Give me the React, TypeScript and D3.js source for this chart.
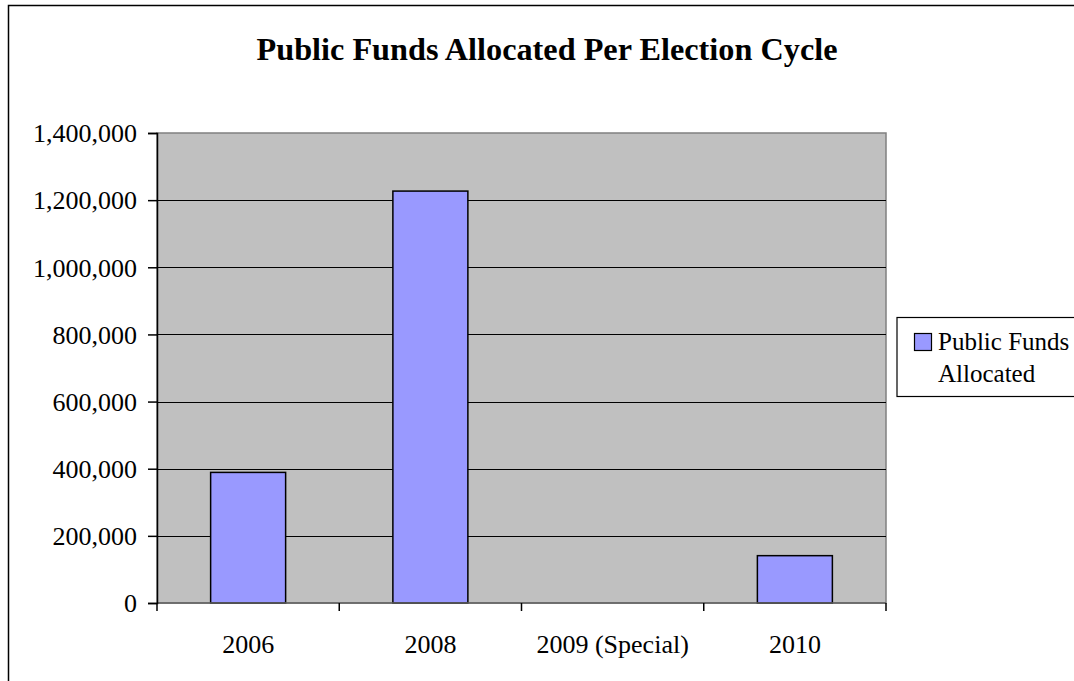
import React, { useEffect, useRef } from "react";
import * as d3 from "d3";

const categories = ["2006", "2008", "2009 (Special)", "2010"];
const values = [389000, 1227000, 0, 141000];
const yTicks = [0, 200000, 400000, 600000, 800000, 1000000, 1200000, 1400000];
const title = "Public Funds Allocated Per Election Cycle";
const seriesName = ["Public Funds", "Allocated"];

const W = 1074;
const H = 681;
const M = { left: 157, right: 886, top: 133, bottom: 603 };
const FONT = "'Liberation Serif', serif";

export default function App() {
  const ref = useRef<SVGSVGElement | null>(null);

  useEffect(() => {
    const svg = d3.select(ref.current);
    svg.selectAll("*").remove();

    svg.append("rect").attr("x", 0).attr("y", 0).attr("width", W).attr("height", H).attr("fill", "#fff");

    // outer border
    svg.append("path")
      .attr("d", `M8.5,${H + 5} V5.5 H${W + 5}`)
      .attr("fill", "none").attr("stroke", "#000").attr("stroke-width", 1.5);

    svg.append("text")
      .attr("x", 547).attr("y", 60)
      .attr("text-anchor", "middle")
      .attr("font-family", FONT).attr("font-weight", 700).attr("font-size", 32)
      .attr("textLength", 581).attr("lengthAdjust", "spacingAndGlyphs")
      .text(title);

    const x = d3.scaleBand<string>().domain(categories).range([M.left, M.right]).paddingInner(0).paddingOuter(0);
    const y = d3.scaleLinear().domain([0, 1400000]).range([M.bottom, M.top]);

    // plot area
    svg.append("rect")
      .attr("x", M.left).attr("y", M.top)
      .attr("width", M.right - M.left).attr("height", M.bottom - M.top)
      .attr("fill", "#C0C0C0").attr("stroke", "#808080").attr("stroke-width", 1.5);

    // gridlines
    svg.append("g").selectAll("line").data(yTicks.filter((t) => t > 0 && t < 1400000)).join("line")
      .attr("x1", M.left).attr("x2", M.right)
      .attr("y1", (d) => Math.round(y(d)) + 0.5).attr("y2", (d) => Math.round(y(d)) + 0.5)
      .attr("stroke", "#000").attr("stroke-width", 1);

    // bars
    const bw = 75;
    const barG = svg.append("g");
    values.forEach((v, i) => {
      if (v <= 0) return;
      barG.append("rect")
        .attr("x", (x(categories[i]) as number) + x.bandwidth() / 2 - bw / 2)
        .attr("y", y(v))
        .attr("width", bw)
        .attr("height", y(0) - y(v))
        .attr("fill", "#9999FF").attr("stroke", "#000").attr("stroke-width", 1.5);
    });

    // x axis line
    svg.append("line")
      .attr("x1", M.left).attr("x2", M.right).attr("y1", M.bottom).attr("y2", M.bottom)
      .attr("stroke", "#606060").attr("stroke-width", 1.5);

    // y axis
    const yAxis = d3.axisLeft(y).tickValues(yTicks).tickSize(9).tickPadding(11)
      .tickFormat((d) => d3.format(",")(d as number));
    const gy = svg.append("g").attr("transform", `translate(${M.left},0)`).call(yAxis);
    gy.select(".domain").attr("stroke", "#000").attr("stroke-width", 1.5);
    gy.selectAll(".tick line").attr("stroke", "#000").attr("stroke-width", 1.5);
    gy.selectAll(".tick text")
      .attr("font-family", FONT).attr("font-size", 26).attr("fill", "#000")
      .attr("dy", "0.34em");

    // x axis ticks at band boundaries
    const bounds = categories.map((c) => x(c) as number).concat([M.right]);
    svg.append("g").selectAll("line").data(bounds).join("line")
      .attr("x1", (d) => d).attr("x2", (d) => d)
      .attr("y1", M.bottom).attr("y2", M.bottom + 8)
      .attr("stroke", "#000").attr("stroke-width", 1.5);

    svg.append("g").selectAll("text").data(categories).join("text")
      .attr("x", (d) => (x(d) as number) + x.bandwidth() / 2)
      .attr("y", 653)
      .attr("text-anchor", "middle")
      .attr("font-family", FONT).attr("font-size", 26).attr("fill", "#000")
      .text((d) => d);

    // legend
    svg.append("rect")
      .attr("x", 897).attr("y", 317.5).attr("width", 200).attr("height", 79)
      .attr("fill", "#fff").attr("stroke", "#000").attr("stroke-width", 1.2);
    svg.append("rect")
      .attr("x", 914.5).attr("y", 333.5).attr("width", 17).attr("height", 17)
      .attr("fill", "#9999FF").attr("stroke", "#000").attr("stroke-width", 1.2);
    svg.append("text").attr("x", 938).attr("y", 350)
      .attr("font-family", FONT).attr("font-size", 25).text(seriesName[0]);
    svg.append("text").attr("x", 938).attr("y", 381.5)
      .attr("font-family", FONT).attr("font-size", 25).text(seriesName[1]);
  }, []);

  return (
    <div style={{ position: "absolute", left: 0, top: 0 }}>
      <svg ref={ref} width={W} height={H} style={{ display: "block" }} />
    </div>
  );
}
